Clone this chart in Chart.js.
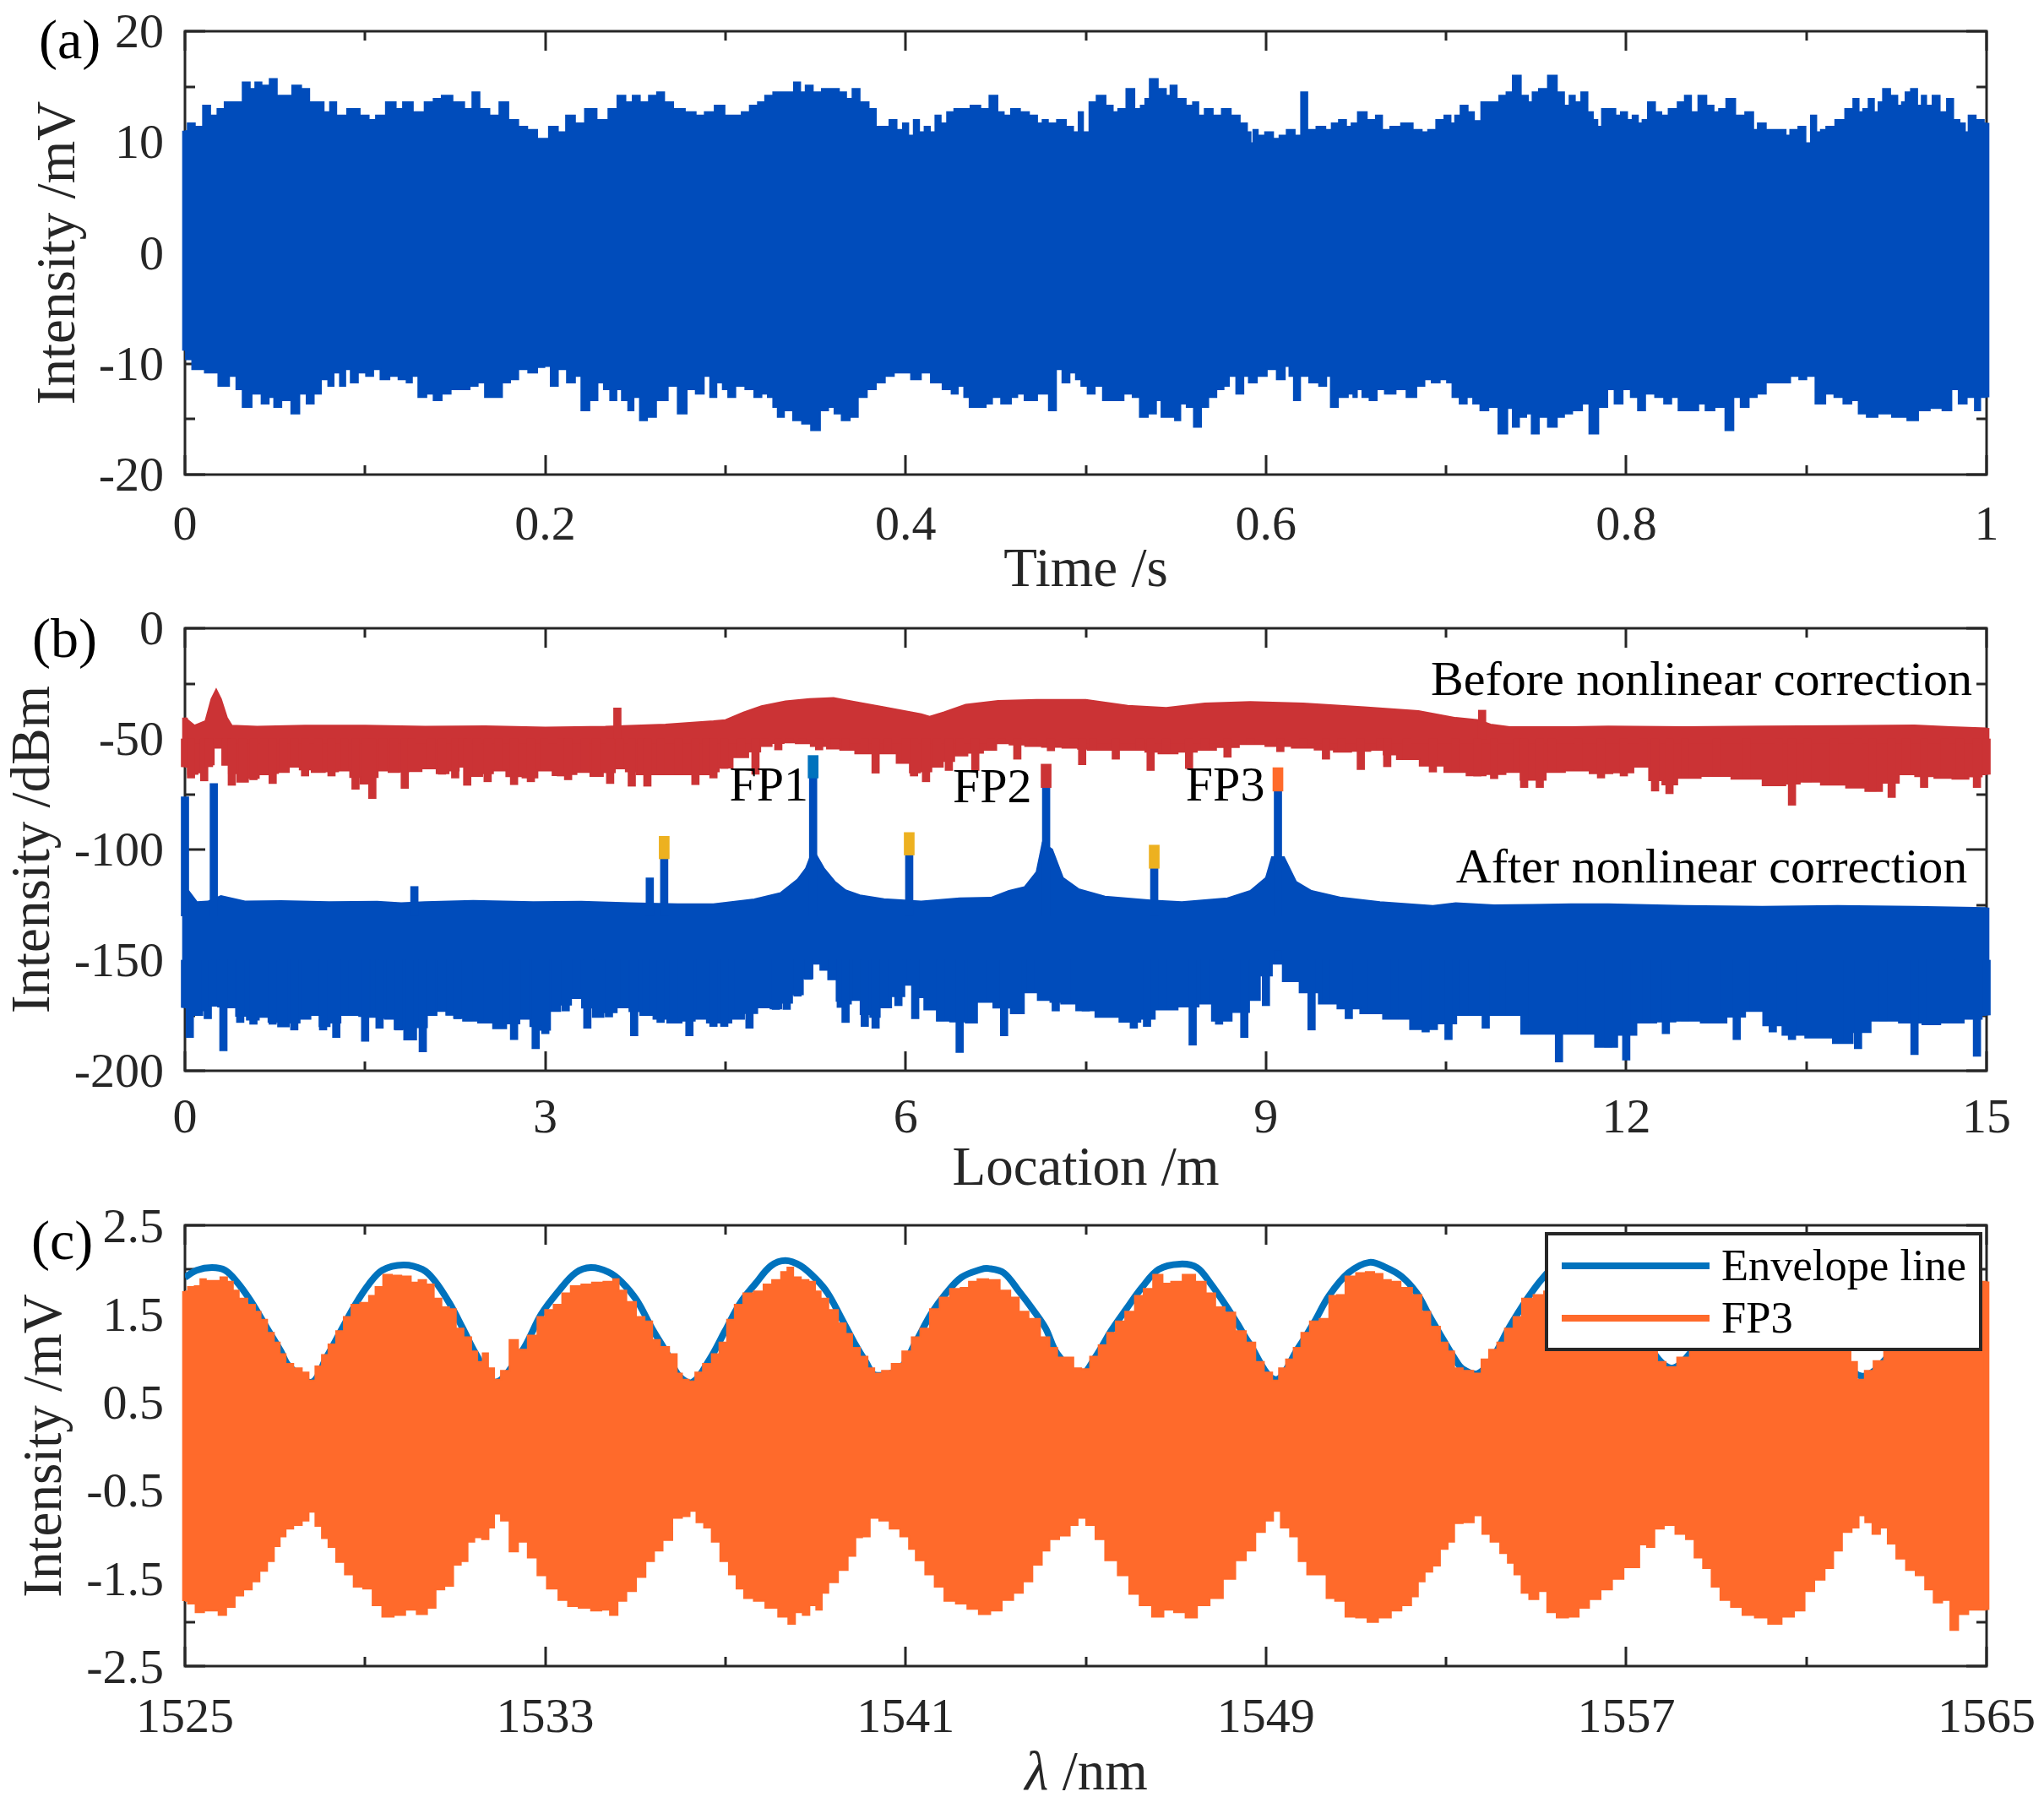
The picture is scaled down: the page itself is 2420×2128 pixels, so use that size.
<!DOCTYPE html>
<html>
<head>
<meta charset="utf-8">
<title>Intensity, location and wavelength traces</title>
<script src="https://cdn.jsdelivr.net/npm/chart.js@4/dist/chart.umd.min.js"></script>
<style>
  html, body { margin: 0; padding: 0; background: #fff; }
  canvas { position: absolute; left: 0; display: block; }
</style>
</head>
<body>
<canvas id="panelA" width="2420" height="709" style="top:0"></canvas>
<canvas id="panelB" width="2420" height="709" style="top:709px"></canvas>
<canvas id="panelC" width="2420" height="710" style="top:1418px"></canvas>
<script>
const aUpperTime = [
  0,.003,.008,.012,.016,.020,.024,.030,.034,.038,
  .040,.045,.049,.053,.057,.062,.067,.071,.075,.079,
  .082,.086,.094,.100,.104,.108,.115,.119,.123,.130,
  .136,.140,.145,.152,.158,.161,.166,.172,.177,.182,
  .188,.192,.199,.205,.209,.214,.219,.225,.232,.238,
  .242,.247,.250,.255,.260,.264,.268,.274,.281,.286,
  .291,.297,.302,.307,.311,.316,.320,.324,.329,.336,
  .340,.343,.346,.351,.356,.361,.365,.369,.372,.377,
  .382,.385,.389,.393,.397,.400,.403,.406,.409,.412,
  .415,.418,.421,.425,.429,.433,.439,.444,.449,.453,
  .456,.461,.466,.471,.475,.477,.481,.487,.491,.495,
  .497,.500,.504,.508,.514,.516,.520,.525,.529,.532,
  .534,.537,.543,.546,.548,.553,.558,.561,.564,.568,
  .573,.578,.583,.588,.591,.592,.594,.597,.602,.606,
  .609,.614,.618,.621,.625,.631,.635,.638,.643,.646,
  .649,.653,.659,.663,.666,.672,.678,.685,.688,.692,
  .697,.701,.704,.706,.710,.714,.717,.722,.727,.732,
  .735,.739,.744,.747,.749,.754,.759,.764,.767,.770,
  .773,.777,.780,.783,.785,.788,.793,.795,.799,.802,
  .805,.808,.810,.814,.818,.821,.826,.831,.834,.838,
  .842,.847,.850,.853,.858,.863,.869,.872,.874,.881,
  .888,.889,.893,.898,.901,.904,.907,.909,.913,.919,
  .924,.928,.930,.933,.936,.939,.941,.944,.949,.952,
  .954,.956,.960,.963,.965,.968,.972,.976,.980,.983,
  .987,.989,.991,.997,1];
const aUpperValues = [
  11.0,11.7,11.4,13.3,12.4,13.0,13.6,13.6,15.4,14.8,
  15.4,15.1,15.7,14.2,14.2,15.1,14.8,13.6,13.6,12.7,
  13.6,12.4,13.0,12.4,12.0,12.4,13.6,13.0,13.6,12.7,
  13.6,13.9,14.2,13.6,13.0,14.5,13.0,12.4,13.6,12.0,
  11.4,11.1,10.3,11.4,10.9,12.4,11.7,13.0,12.0,13.0,
  14.2,13.6,14.2,13.6,14.2,14.5,13.6,13.0,12.7,12.4,
  12.7,13.3,12.4,12.4,12.7,13.3,13.6,14.2,14.5,14.5,
  15.4,14.5,15.1,14.5,14.8,14.8,14.5,13.9,14.8,13.6,
  13.0,11.4,11.4,12.0,11.1,11.7,10.6,12.0,10.9,11.4,
  10.9,12.4,11.7,12.7,13.0,13.0,13.3,13.0,14.2,12.7,
  12.4,13.0,12.7,12.4,11.7,12.0,11.7,12.0,11.4,10.9,
  12.7,10.9,13.6,14.2,13.3,12.7,13.0,14.8,13.0,13.3,
  13.9,15.7,14.8,14.2,15.1,13.9,13.3,13.6,12.4,13.0,
  12.4,13.0,12.4,11.7,10.9,9.9,11.1,10.6,10.9,10.3,
  10.6,11.1,10.6,14.5,11.1,11.4,11.1,11.7,12.0,11.4,
  11.7,12.7,12.0,12.4,11.1,11.4,11.7,11.1,10.9,11.1,
  12.0,12.4,11.7,12.4,13.3,12.7,11.9,13.6,13.6,14.2,
  14.5,16.0,14.2,13.6,14.5,14.8,16.0,14.5,13.3,14.2,
  13.6,14.5,12.7,12.0,11.4,13.0,13.0,12.4,12.7,12.0,
  12.4,11.7,12.0,13.6,12.7,12.4,13.0,13.6,14.2,12.7,
  14.2,13.3,12.7,13.0,13.9,12.4,12.7,11.1,11.7,11.1,
  11.1,10.6,11.1,11.4,9.9,12.4,10.9,11.1,11.4,12.0,
  13.0,13.9,12.7,13.0,13.9,12.7,13.6,14.8,14.2,13.3,
  13.6,14.5,14.8,13.3,14.2,13.3,14.2,12.7,13.9,12.0,
  11.7,10.9,12.4,12.0,11.7];
const aLowerTime = [
  0,.001,.007,.015,.022,.027,.030,.034,.040,.045,
  .048,.051,.056,.062,.065,.070,.073,.078,.081,.084,
  .088,.090,.094,.098,.103,.106,.111,.116,.121,.125,
  .127,.132,.136,.140,.145,.150,.155,.161,.164,.169,
  .173,.179,.182,.188,.193,.198,.201,.205,.209,.215,
  .218,.222,.227,.231,.234,.238,.241,.244,.248,.250,
  .255,.258,.265,.271,.276,.281,.286,.290,.293,.297,
  .300,.303,.308,.314,.318,.322,.325,.328,.330,.335,
  .340,.345,.350,.355,.359,.362,.367,.371,.376,.381,
  .386,.391,.396,.400,.406,.411,.417,.424,.427,.431,
  .434,.437,.443,.446,.450,.456,.461,.463,.469,.477,
  .482,.485,.489,.493,.496,.499,.503,.507,.512,.518,
  .524,.528,.532,.537,.541,.543,.548,.551,.554,.558,
  .562,.566,.570,.575,.578,.581,.586,.589,.592,.598,
  .603,.609,.612,.614,.617,.621,.627,.632,.635,.637,
  .643,.648,.649,.652,.655,.660,.663,.669,.675,.681,
  .686,.690,.694,.699,.702,.705,.710,.713,.717,.721,
  .726,.732,.736,.738,.743,.746,.749,.754,.759,.764,
  .767,.773,.778,.781,.788,.791,.796,.800,.805,.808,
  .813,.819,.823,.827,.831,.838,.842,.846,.852,.858,
  .861,.866,.870,.875,.880,.888,.894,.898,.902,.908,
  .913,.918,.923,.927,.931,.936,.943,.952,.960,.964,
  .973,.978,.983,.986,.992,.995,.998,1];
const aLowerValues = [
  -8.8,-9.6,-10.5,-10.8,-12.0,-11.1,-12.3,-13.9,-12.7,-13.6,
  -13.0,-13.9,-13.3,-14.5,-12.7,-13.6,-12.7,-11.4,-12.0,-10.8,
  -12.0,-10.5,-11.7,-10.8,-11.1,-10.5,-11.4,-11.1,-11.4,-11.7,
  -11.1,-13.0,-12.7,-13.3,-12.7,-12.3,-12.3,-12.0,-11.7,-13.0,
  -13.0,-11.7,-11.4,-10.5,-10.8,-10.3,-10.2,-12.0,-10.5,-11.7,
  -11.1,-14.2,-13.3,-11.7,-12.3,-13.3,-12.3,-13.3,-14.2,-13.0,
  -15.1,-14.8,-13.3,-12.0,-14.5,-12.3,-12.7,-11.1,-13.0,-11.7,
  -12.3,-13.0,-12.0,-12.3,-13.0,-12.7,-13.0,-13.9,-14.8,-14.2,
  -15.1,-15.4,-16.0,-14.2,-13.9,-14.5,-15.1,-14.8,-13.0,-12.3,
  -11.7,-11.1,-10.8,-10.8,-11.4,-10.8,-11.7,-12.3,-12.7,-12.0,
  -13.0,-13.9,-13.9,-13.6,-13.0,-13.6,-13.0,-12.7,-13.3,-12.7,
  -14.2,-10.5,-11.7,-10.8,-11.4,-12.0,-12.7,-12.0,-13.3,-13.3,
  -12.7,-13.0,-14.8,-14.5,-13.3,-14.8,-14.8,-15.1,-13.6,-13.9,
  -15.7,-13.9,-13.0,-12.3,-12.0,-11.1,-12.7,-11.1,-11.7,-11.1,
  -10.5,-11.4,-10.2,-11.1,-13.3,-11.1,-11.7,-12.0,-11.1,-13.9,
  -13.0,-12.7,-13.0,-12.3,-13.0,-13.3,-12.3,-12.7,-12.3,-13.0,
  -12.0,-11.4,-11.7,-11.4,-11.7,-13.0,-13.6,-13.0,-13.6,-14.2,
  -13.9,-16.3,-14.0,-15.7,-14.8,-14.5,-16.3,-14.8,-15.7,-14.8,
  -14.5,-14.2,-13.6,-16.3,-13.9,-12.3,-13.6,-12.3,-13.0,-14.2,
  -12.7,-13.0,-13.6,-13.0,-14.2,-14.2,-13.6,-14.2,-13.9,-16.0,
  -13.0,-13.9,-13.0,-12.7,-11.7,-11.7,-11.1,-11.4,-11.1,-13.6,
  -12.7,-13.0,-13.6,-13.3,-14.5,-14.8,-14.5,-14.8,-15.1,-14.2,
  -14.0,-14.2,-12.3,-13.6,-13.0,-14.2,-13.0,-13.0];
const aEdgeTime = [0, 1];
const aEdgeLow = [-8.8, -13.0];
const aEdgeHigh = [11.0, 11.7];
const aXTicks = [0,.1,.2,.3,.4,.5,.6,.7,.8,.9,1];
const aXLabels = ['0','0.2','0.4','0.6','0.8','1'];
const aYTicks = [-20,-15,-10,-5,0,5,10,15,20];
const aYLabels = ['20','10','0','-10','-20'];

// (b) location trace, before and after the correction
const bRedUpperLoc = [
  0,.08,.17,.22,.26,.30,.35,.39,.6,1,
  1.5,2,2.5,3,3.5,4,4.4,4.5,4.65,4.8,
  5,5.2,5.4,5.5,5.82,6.13,6.2,6.32,6.5,6.77,
  7.09,7.5,7.85,8.17,8.49,8.87,9.31,9.82,10.27,10.58,
  10.77,10.87,11.03,11.54,11.85,12.49,13.13,13.76,14.4,14.7,15];
const bRedUpperValues = [
  -40.5,-44,-42,-32,-27.7,-32,-40.5,-44,-44.5,-44,
  -44,-44.5,-44.3,-44.8,-44.5,-43.5,-42,-41.5,-38,-35.2,
  -33,-32,-31.5,-32.5,-35.7,-38.8,-40,-38,-34.5,-32.8,
  -32.3,-32.3,-35,-36,-34,-33.3,-34,-35.7,-37.4,-40.5,
  -41.5,-43.5,-44.7,-44.7,-44.4,-44.7,-44.4,-44.2,-43.9,-44.7,-45.2];
const bRedLowerLoc = [
  0,.05,.16,.20,.28,.34,.39,.48,.57,.66,
  .73,.82,.91,1.0,1.11,1.22,1.33,1.42,1.50,1.56,
  1.65,1.74,1.83,1.89,2.05,2.14,2.25,2.31,2.35,2.43,
  2.52,2.61,2.74,2.88,2.99,3.13,3.19,3.33,3.42,3.54,
  3.62,3.72,3.80,3.85,3.96,4.11,4.25,4.34,4.40,4.49,
  4.63,4.75,4.83,4.94,5.03,5.14,5.28,5.41,5.5,5.66,
  5.75,5.85,6.0,6.07,6.17,6.26,6.36,6.45,6.58,6.71,
  6.8,6.93,7.06,7.21,7.4,7.47,7.56,7.75,7.95,8.04,
  8.17,8.36,8.49,8.68,8.87,9.12,9.31,9.5,9.63,9.79,
  9.95,10.01,10.17,10.39,10.58,10.76,10.9,11.09,11.15,11.28,
  11.38,11.6,11.79,11.98,12.14,12.24,12.36,12.49,12.75,13.0,
  13.27,13.38,13.51,13.73,13.93,14.05,14.21,14.33,14.48,14.65,
  14.78,14.92,15];
const bRedLowerValues = [
  -62.6,-67.7,-69,-62.6,-54,-61.7,-71,-69.4,-68.5,-66,
  -70.2,-65,-62.6,-66.8,-65,-66.8,-64.3,-72.8,-70.2,-77,
  -64.3,-65,-72.4,-64.6,-63.4,-66,-67.7,-62.6,-71,-66.8,
  -69.4,-64.3,-70.7,-69.4,-64.3,-66.8,-68.5,-65,-66.8,-70.2,
  -63.4,-71.4,-66,-71.4,-66,-66,-70.7,-66,-67.7,-63.4,
  -58.3,-66,-53.2,-55,-50.7,-52,-55,-54.4,-55,-56.6,
  -65.5,-56.6,-60.9,-66.8,-69.4,-62.6,-64.3,-57.5,-64.3,-55,
  -52,-59.2,-53.2,-55.4,-54,-61.7,-55,-59.2,-55,-64.3,
  -56.6,-63.4,-55,-58.3,-52.4,-55.8,-54,-59.2,-55.8,-63.9,
  -55,-62.6,-59.2,-65,-65,-66.8,-68,-65,-72,-72,
  -65,-64.3,-67.7,-66.8,-62.6,-73.6,-74.8,-67.7,-66.8,-68,
  -71,-80,-69.4,-70.7,-72,-73.6,-76.5,-66,-72,-67.7,
  -68,-72,-66];
const bRedSpikeLoc = [3.6, 10.8];
const bRedSpikeTop = [-36, -37];
const bBlueUpperLoc = [
  0,.03,.1,.19,.3,.5,.8,1.2,1.6,1.8,
  2.0,2.4,2.9,3.3,3.7,4.1,4.4,4.74,4.96,5.1,
  5.17,5.23,5.32,5.41,5.5,5.62,5.82,6.13,6.45,6.71,
  6.86,6.99,7.09,7.14,7.22,7.31,7.44,7.66,8.04,8.3,
  8.68,8.87,9.0,9.05,9.15,9.25,9.38,9.63,9.95,10.39,
  10.58,10.9,11.22,11.54,11.85,12.49,13.13,13.76,14.4,15];
const bBlueUpperValues = [
  -118,-118.7,-123.8,-123.5,-121,-123.5,-123.3,-123.8,-123.6,-124.2,
  -123.8,-123.2,-123.8,-123.6,-124.2,-124.7,-124.7,-122.5,-119.6,-113.6,
  -108.5,-100,-108.5,-114.5,-118.4,-120.7,-122.4,-123.5,-122,-121.8,
  -118.7,-117,-110.2,-97,-100,-112.8,-117.9,-121.3,-123,-123.8,
  -122,-118.7,-112.8,-103.4,-103.4,-114.5,-118.7,-121.8,-123.8,-125.5,
  -124.2,-125.2,-125,-124.7,-124.7,-125.5,-125.9,-125.5,-125.9,-126.4];
const bBlueLowerLoc = [
  0,.04,.10,.19,.23,.32,.39,.46,.57,.66,
  .73,.82,.91,1.0,1.09,1.15,1.26,1.33,1.40,1.50,
  1.58,1.62,1.71,1.78,1.87,1.98,2.05,2.14,2.21,2.27,
  2.36,2.52,2.61,2.74,2.83,2.92,3.0,3.08,3.17,3.26,
  3.35,3.44,3.53,3.66,3.74,3.84,3.96,4.07,4.20,4.29,
  4.40,4.49,4.61,4.70,4.83,4.92,5.01,5.1,5.19,5.26,
  5.32,5.39,5.46,5.5,5.59,5.66,5.75,5.82,5.94,6.04,
  6.08,6.23,6.29,6.45,6.55,6.64,6.82,6.93,7.04,7.16,
  7.25,7.34,7.5,7.66,7.9,8.01,8.14,8.39,8.49,8.61,
  8.82,8.9,9.0,9.1,9.18,9.38,9.5,9.69,9.88,10.07,
  10.33,10.52,10.65,10.83,11.03,11.22,11.44,11.63,11.85,12.0,
  12.17,12.33,12.49,12.75,12.92,13.06,13.22,13.38,13.6,13.84,
  13.93,14.14,14.4,14.53,14.7,14.92,15];
const bBlueLowerValues = [
  -171.4,-185,-174.8,-176.5,-170.6,-191,-171.4,-178.2,-179,-175.7,
  -179,-180,-181.6,-176.5,-174.8,-181.6,-185,-174.8,-174.8,-186.7,
  -175.7,-180.8,-176.5,-181.6,-185.9,-191.5,-174.8,-173,-174.8,-176.5,
  -177.4,-178.2,-180.8,-185.9,-176.5,-190,-183.3,-173,-173,-167.2,
  -180.8,-175.7,-175.7,-171.4,-184.2,-174.8,-178.2,-178.2,-184.2,-176.5,
  -180,-180,-176.5,-180.8,-171.4,-172.3,-172.3,-166.3,-158.7,-150.2,
  -154.4,-158.7,-171.4,-178.2,-168,-180,-180.8,-171.4,-170.6,-161.2,
  -176.5,-172.3,-177.4,-191.8,-178.2,-168.9,-184.2,-174,-164.6,-168,
  -173,-169.7,-173,-175.7,-180.8,-180,-172.3,-188.4,-169.7,-179,
  -185,-168,-170.6,-145.9,-159.5,-181.6,-169.7,-176.5,-174,-176.5,
  -182.5,-185.9,-174.8,-180.8,-174.8,-183.3,-196.1,-183.3,-189.3,-195.2,
  -178.2,-183.3,-177.4,-178.2,-185.9,-173,-182.5,-185.9,-185,-187.6,
  -190,-177.4,-192.7,-179,-178.2,-193.5,-174.8];
const bBlueSpikeLoc = [0,.24,1.91,3.87,3.99,5.23,6.03,7.17,8.07,9.1];
const bBlueSpikeTop = [-76.2,-70.2,-116.7,-112.8,-104.2,-67.7,-102.5,-72,-108.5,-73.6];
const bTipLoc = [3.99,5.23,6.03,7.17,8.07,9.1];
const bTipTop = [-94,-57.5,-92.3,-61.4,-98,-63];
const bTipBottom = [-104.2,-67.7,-102.5,-72,-108.5,-73.6];
const bEdgeLoc = [0, 15];
const bRedEdgeLow = [-62.6, -66];
const bRedEdgeHigh = [-40.5, -45.2];
const bBlueEdgeLow = [-171.4, -174.8];
const bBlueEdgeHigh = [-118, -126.4];
const bXTicks = [0,1.5,3,4.5,6,7.5,9,10.5,12,13.5,15];
const bXLabels = ['0','3','6','9','12','15'];
const bYTicks = [-200,-175,-150,-125,-100,-75,-50,-25,0];
const bYLabels = ['0','-50','-100','-150','-200'];

// (c) wavelength trace and its envelope line
const cEnvelopeWave = [
  1525,1525.26,1525.6,1525.89,1526.15,1526.45,1526.79,1527.13,1527.3,1527.81,
  1528.15,1528.49,1528.78,1529.08,1529.38,1529.85,1530.27,1530.53,1530.87,1531.17,
  1531.46,1531.89,1532.48,1532.91,1533.29,1533.67,1534.01,1534.4,1534.69,1535.03,
  1535.37,1535.71,1535.97,1536.27,1536.65,1536.99,1537.33,1537.67,1538.01,1538.33,
  1538.67,1539.01,1539.27,1539.56,1539.86,1540.12,1540.33,1540.88,1541.22,1541.56,
  1541.9,1542.24,1542.67,1542.84,1543.18,1543.52,1543.86,1544.11,1544.37,1544.88,
  1545.22,1545.56,1545.9,1546.24,1546.62,1547.09,1547.47,1547.77,1548.11,1548.36,
  1548.62,1549.21,1549.72,1550.06,1550.4,1550.83,1551.3,1551.67,1552.01,1552.35,
  1552.61,1552.86,1553.2,1553.37,1553.71,1554.05,1554.39,1554.82,1555.16,1555.5,
  1555.92,1556.43,1556.94,1557.45,1558,1558.56,1559.07,1559.58,1560.09,1560.6,
  1561.11,1561.62,1562.21,1562.85,1563.4,1563.91];
const cEnvelopeValues = [
  1.91,1.99,2.02,1.99,1.86,1.65,1.36,1.07,.91,.72,
  1.01,1.33,1.60,1.83,1.99,2.05,2.0,1.88,1.62,1.33,
  1.04,.72,1.07,1.49,1.75,1.96,2.02,1.97,1.86,1.65,
  1.33,1.04,.79,.72,.98,1.30,1.62,1.84,2.04,2.10,
  2.04,1.89,1.73,1.46,1.17,.95,.80,.88,1.17,1.49,
  1.73,1.91,2.0,2.01,1.96,1.75,1.52,1.33,1.04,.80,
  1.01,1.30,1.55,1.79,2.0,2.06,2.02,1.84,1.59,1.39,
  1.17,.75,1.11,1.39,1.70,1.96,2.08,2.02,1.92,1.73,
  1.49,1.27,.98,.87,.82,1.01,1.33,1.68,1.91,2.07,
  2.08,1.99,1.62,1.17,.88,1.14,1.52,1.91,2.07,2.0,
  1.68,1.17,.79,1.04,1.55,1.91];
const cUpperWave = [
  1525,1525.13,1525.30,1525.38,1525.55,1525.72,1525.85,1526.02,1526.11,1526.28,
  1526.49,1526.62,1526.74,1526.91,1527.04,1527.17,1527.30,1527.51,1527.68,1527.81,
  1527.98,1528.10,1528.27,1528.44,1528.61,1528.78,1529.0,1529.17,1529.29,1529.51,
  1529.68,1529.93,1530.10,1530.27,1530.44,1530.61,1530.78,1530.95,1531.08,1531.29,
  1531.42,1531.56,1531.66,1531.80,1531.93,1532.10,1532.31,1532.48,1532.74,1532.91,
  1533.08,1533.29,1533.46,1533.67,1533.93,1534.14,1534.44,1534.57,1534.69,1534.91,
  1535.12,1535.29,1535.46,1535.63,1535.87,1535.97,1536.10,1536.27,1536.39,1536.61,
  1536.78,1536.95,1537.12,1537.29,1537.5,1537.76,1537.93,1538.14,1538.33,
  1538.42,1538.59,1538.76,1538.93,1539.05,1539.18,1539.39,1539.61,1539.73,1539.90,
  1540.07,1540.24,1540.37,1540.58,1540.80,1541.05,1541.22,1541.43,1541.65,1541.86,
  1542.11,1542.33,1542.48,1542.71,1542.96,1543.22,1543.43,1543.60,1543.86,1544.11,
  1544.28,1544.45,1544.66,1544.79,1545.01,1545.18,1545.39,1545.56,1545.77,1545.98,
  1546.2,1546.37,1546.62,1546.79,1547.0,1547.3,1547.56,1547.77,1547.98,1548.19,
  1548.45,1548.66,1548.87,1549.04,1549.24,1549.34,1549.55,1549.68,1549.89,1550.06,
  1550.32,1550.49,1550.66,1550.87,1551.13,1551.3,1551.51,1551.67,1551.88,1552.1,
  1552.39,1552.52,1552.78,1552.95,1553.12,1553.24,1553.5,1553.71,1553.86,1554.05,
  1554.22,1554.39,1554.6,1554.77,1555.11,1555.24,1555.67,1556.09,1556.6,1557.11,
  1557.62,1557.75,1558.0,1558.26,1558.56,1558.98,1559.49,1560.09,1560.6,1561.11,
  1561.53,1561.92,1562.04,1562.21,1562.38,1562.6,1562.85,1563.32,1563.83,1564.34,
  1564.85,1565];
const cUpperValues = [
  1.75,1.80,1.81,1.89,1.87,1.87,1.91,1.86,1.76,1.67,
  1.60,1.52,1.43,1.28,1.17,1.04,.93,.88,.83,.74,
  .90,1.03,1.15,1.30,1.46,1.60,1.62,1.70,1.80,1.94,
  1.93,1.92,1.85,1.88,1.83,1.67,1.57,1.55,1.33,1.23,
  1.07,.95,1.05,.88,.75,.85,1.20,1.09,1.25,1.46,
  1.54,1.60,1.73,1.81,1.83,1.85,1.86,1.89,1.76,1.63,
  1.46,1.41,1.20,1.12,1.04,.82,.75,.73,.83,.93,
  1.04,1.17,1.43,1.60,1.73,1.75,1.83,1.88,1.97,
  2.02,1.91,1.88,1.86,1.75,1.67,1.54,1.39,1.27,1.11,
  1.01,.88,.82,.85,.93,1.07,1.23,1.33,1.55,1.68,
  1.78,1.79,1.86,1.89,1.88,1.76,1.68,1.52,1.44,1.23,
  1.11,1.0,1.0,.88,.87,1.01,1.14,1.28,1.41,1.52,
  1.70,1.78,1.94,1.84,1.86,1.94,1.86,1.73,1.57,1.51,
  1.30,1.17,.95,.83,.74,.88,.98,1.11,1.28,1.41,
  1.44,1.70,1.71,1.92,1.96,1.97,1.95,1.88,1.86,1.79,
  1.71,1.52,1.35,1.17,1.07,.88,.85,.82,.98,1.09,
  1.17,1.33,1.46,1.67,1.71,1.75,1.83,1.86,1.68,1.36,
  1.07,.95,.89,1.0,1.11,1.43,1.75,1.88,1.83,1.56,
  1.24,1.07,.95,.75,.85,.96,1.07,1.39,1.75,1.88,
  1.86,1.86];
const cLowerWave = [
  1525,1525.13,1525.34,1525.51,1525.68,1525.81,1526.02,1526.19,1526.40,1526.57,
  1526.74,1526.91,1527.04,1527.17,1527.30,1527.51,1527.68,1527.81,1527.98,1528.10,
  1528.27,1528.44,1528.66,1528.83,1529.08,1529.25,1529.51,1529.76,1530.02,1530.27,
  1530.48,1530.65,1530.87,1531.04,1531.21,1531.34,1531.51,1531.68,1531.80,1531.93,
  1532.10,1532.31,1532.48,1532.74,1532.91,1533.16,1533.42,1533.59,1533.89,1534.14,
  1534.35,1534.52,1534.69,1534.91,1535.12,1535.33,1535.50,1535.71,1535.93,1536.14,
  1536.27,1536.44,1536.61,1536.78,1536.99,1537.16,1537.33,1537.5,1537.76,1538.01,
  1538.33,1538.46,1538.63,1538.80,1538.93,1539.10,1539.18,1539.39,1539.61,1539.82,
  1539.95,1540.12,1540.29,1540.54,1540.75,1541.01,1541.14,1541.31,1541.56,1541.73,
  1541.99,1542.24,1542.5,1542.75,1543.01,1543.26,1543.52,1543.69,1543.94,1544.11,
  1544.28,1544.54,1544.75,1544.89,1545.13,1545.3,1545.56,1545.86,1546.07,1546.32,
  1546.62,1546.83,1547.09,1547.34,1547.6,1547.9,1548.19,1548.45,1548.66,1548.87,
  1549.09,1549.23,1549.43,1549.64,1549.81,1550.02,1550.28,1550.41,1550.66,1550.87,
  1551.13,1551.38,1551.6,1551.67,1551.88,1552.14,1552.31,1552.44,1552.61,1552.78,
  1552.95,1553.12,1553.24,1553.5,1553.73,1553.88,1554.09,1554.31,1554.43,1554.6,
  1554.75,1554.94,1555.16,1555.33,1555.58,1555.84,1556.05,1556.3,1556.56,1556.81,
  1557.07,1557.2,1557.38,1557.54,1557.71,1557.96,1558.22,1558.43,1558.6,1558.81,
  1558.98,1559.2,1559.45,1559.71,1560,1560.3,1560.6,1560.85,1561.07,1561.28,
  1561.53,1561.66,1561.92,1562.09,1562.23,1562.38,1562.55,1562.72,1562.89,1563.1,
  1563.32,1563.53,1563.74,1563.91,1564.12,1564.27,1564.47,1564.72,1565];
const cLowerValues = [
  -1.76,-1.79,-1.89,-1.87,-1.87,-1.92,-1.83,-1.70,-1.63,-1.54,
  -1.42,-1.31,-1.14,-1.03,-.94,-.90,-.85,-.75,-.91,-1.05,
  -1.15,-1.32,-1.46,-1.60,-1.62,-1.81,-1.94,-1.92,-1.86,-1.91,
  -1.84,-1.63,-1.59,-1.35,-1.31,-1.09,-1.04,-1.06,-.93,-.77,
  -.85,-1.20,-1.09,-1.27,-1.47,-1.62,-1.75,-1.82,-1.84,-1.87,
  -1.86,-1.92,-1.76,-1.65,-1.49,-1.31,-1.19,-1.07,-.82,-.80,
  -.74,-.87,-.93,-1.09,-1.31,-1.46,-1.62,-1.73,-1.76,-1.84,
  -1.94,-2.02,-1.89,-1.92,-1.81,-1.86,-1.67,-1.55,-1.41,-1.25,
  -1.04,-1.03,-.82,-.85,-.94,-1.03,-1.17,-1.30,-1.46,-1.60,
  -1.76,-1.79,-1.85,-1.91,-1.87,-1.75,-1.67,-1.54,-1.35,-1.19,
  -1.06,-1.02,-.90,-.82,-.90,-1.06,-1.30,-1.47,-1.68,-1.81,
  -1.94,-1.86,-1.89,-1.95,-1.81,-1.73,-1.51,-1.30,-1.19,-.98,
  -.85,-.74,-.93,-1.03,-1.31,-1.46,-1.46,-1.73,-1.76,-1.94,
  -1.95,-2.0,-1.95,-1.95,-1.87,-1.81,-1.71,-1.54,-1.43,-1.36,
  -1.17,-1.09,-.88,-.87,-.79,-1.0,-1.09,-1.22,-1.33,-1.46,
  -1.67,-1.74,-1.65,-1.89,-1.95,-1.94,-1.84,-1.74,-1.63,-1.51,
  -1.38,-1.38,-1.12,-1.15,-.94,-.90,-1.0,-1.06,-1.27,-1.39,
  -1.60,-1.75,-1.83,-1.92,-1.95,-2.02,-1.94,-1.87,-1.65,-1.52,
  -1.39,-1.19,-.98,-.93,-.79,-.87,-1.0,-.93,-1.11,-1.28,
  -1.41,-1.47,-1.63,-1.78,-1.75,-2.09,-1.91,-1.86,-1.86];
const cEdgeWave = [1525, 1565];
const cEdgeLow = [-1.76, -1.86];
const cEdgeHigh = [1.75, 1.86];
const cXTicks = [1525,1529,1533,1537,1541,1545,1549,1553,1557,1561,1565];
const cXLabels = ['1525','1533','1541','1549','1557','1565'];
const cYTicks = [-2.5,-2,-1.5,-1,-.5,0,.5,1,1.5,2,2.5];
const cYLabels = ['2.5','1.5','0.5','-0.5','-1.5','-2.5'];

const SERIF = '"Liberation Serif", "Times New Roman", serif';
const AXIS_COLOR = '#262626';
const BLUE = '#004cbb';
const RED = '#cb3335';
const ORANGE = '#ff6a2b';
const ENVELOPE = '#0072bd';
const YELLOW = '#edb120';

Chart.defaults.font.family = SERIF;
Chart.defaults.color = AXIS_COLOR;

const toPoints = (xs, ys) => xs.map((x, i) => ({ x, y: ys[i] }));
const toBars = (xs, lows, highs) => xs.map((x, i) => ({ x, y: [lows[i], highs[i]] }));

// one edge of a filled band, filled past the middle so the two halves overlap
const band = (xs, ys, color, fillTo, order, label, stepped = 'middle') => ({
  type: 'line', label, data: toPoints(xs, ys), stepped,
  borderColor: color, backgroundColor: color, borderWidth: 2,
  fill: { value: fillTo }, pointRadius: 0, clip: false, order
});
const bars = (xs, lows, highs, color, thickness, order) => ({
  type: 'bar', data: toBars(xs, lows, highs), backgroundColor: color, borderWidth: 0,
  barThickness: thickness, grouped: false, clip: false, order
});
// the read lower edge as thin dips over a shallower plateau
const plateau = ys => ys.map((y, i) => Math.max(y, ((ys[i - 1] ?? y) + (ys[i + 1] ?? y)) / 2));

// inward MATLAB style ticks on all four sides and the axes box
const boxPlugin = {
  id: 'box',
  beforeDatasetsDraw(chart) {
    const { ctx, chartArea: a, scales } = chart;
    ctx.save();
    ctx.strokeStyle = AXIS_COLOR;
    ctx.lineWidth = 3;
    ctx.beginPath();
    scales.x.ticks.forEach(t => {
      const px = Math.round(scales.x.getPixelForValue(t.value));
      const len = t.label ? 23 : 11;
      ctx.moveTo(px, a.top); ctx.lineTo(px, a.top + len);
      ctx.moveTo(px, a.bottom); ctx.lineTo(px, a.bottom - len);
    });
    scales.y.ticks.forEach(t => {
      const py = Math.round(scales.y.getPixelForValue(t.value));
      const len = t.label ? 24 : 12;
      ctx.moveTo(a.left, py); ctx.lineTo(a.left + len, py);
      ctx.moveTo(a.right, py); ctx.lineTo(a.right - len, py);
    });
    ctx.stroke();
    ctx.strokeRect(a.left, a.top, a.right - a.left, a.bottom - a.top);
    ctx.restore();
  },
  afterDatasetsDraw(chart) {
    const { ctx, scales } = chart;
    const opts = chart.options.plugins.box;
    ctx.save();
    ctx.fillStyle = '#000';
    ctx.textBaseline = 'middle';
    (opts.notes || []).forEach(n => {
      ctx.font = n.size + 'px ' + SERIF;
      ctx.textAlign = n.align || 'left';
      const px = n.dataX !== undefined ? scales.x.getPixelForValue(n.dataX) : n.px;
      const py = n.dataY !== undefined ? scales.y.getPixelForValue(n.dataY) : n.py;
      ctx.fillText(n.text, px, py);
    });
    if (opts.lambdaTitle) drawLambdaTitle(ctx, opts.lambdaTitle);
    if (opts.legend) drawLegend(ctx, chart, opts.legend);
    ctx.restore();
  }
};

function drawLambdaTitle(ctx, t) {
  ctx.textAlign = 'left';
  ctx.fillStyle = AXIS_COLOR;
  ctx.font = 'italic ' + t.size + 'px ' + SERIF;
  const w1 = ctx.measureText(t.symbol).width;
  ctx.font = t.size + 'px ' + SERIF;
  const w2 = ctx.measureText(t.rest).width;
  const x = t.cx - (w1 + w2) / 2;
  ctx.fillText(t.rest, x + w1, t.y);
  ctx.font = 'italic ' + t.size + 'px ' + SERIF;
  ctx.fillText(t.symbol, x, t.y);
}

function drawLegend(ctx, chart, l) {
  ctx.fillStyle = '#fff';
  ctx.fillRect(l.left, l.top, l.width, l.height);
  ctx.strokeStyle = AXIS_COLOR;
  ctx.lineWidth = 4;
  ctx.strokeRect(l.left, l.top, l.width, l.height);
  const labelled = chart.data.datasets.filter(d => d.label);
  labelled.forEach((d, i) => {
    const y = l.top + l.firstRow + i * l.rowGap;
    ctx.strokeStyle = d.borderColor;
    ctx.lineWidth = 8;
    ctx.beginPath();
    ctx.moveTo(l.left + 18, y);
    ctx.lineTo(l.left + 193, y);
    ctx.stroke();
    ctx.fillStyle = '#000';
    ctx.textAlign = 'left';
    ctx.textBaseline = 'middle';
    ctx.font = l.size + 'px ' + SERIF;
    ctx.fillText(d.label, l.left + 207, y + 3);
  });
}

function makePanel(id, cfg) {
  const labelOf = (value, labels) => {
    const text = String(Number(value.toFixed(3)));
    return labels.includes(text) ? text : '';
  };
  return new Chart(document.getElementById(id), {
    type: 'line',
    data: { datasets: cfg.datasets },
    plugins: [boxPlugin],
    options: {
      responsive: false,
      animation: false,
      devicePixelRatio: 1,
      layout: { autoPadding: false, padding: { top: cfg.top, right: 68, left: 0, bottom: 0 } },
      plugins: {
        legend: { display: false },
        tooltip: { enabled: false },
        box: { notes: cfg.notes, legend: cfg.legend, lambdaTitle: cfg.lambdaTitle }
      },
      scales: {
        x: {
          type: 'linear', offset: false, min: cfg.xMin, max: cfg.xMax,
          afterBuildTicks: s => { s.ticks = cfg.xTicks.map(value => ({ value })); },
          afterFit: s => { s.height = cfg.below; s.paddingLeft = 0; s.paddingRight = 0; },
          grid: { display: false, drawTicks: false },
          border: { display: false },
          ticks: {
            autoSkip: false, maxRotation: 0, padding: cfg.xTickPad, color: AXIS_COLOR,
            font: { size: 58 }, callback: v => labelOf(v, cfg.xLabels)
          },
          title: {
            display: !!cfg.xTitle, text: cfg.xTitle, color: AXIS_COLOR,
            font: { size: 65, lineHeight: 1 }, padding: { top: cfg.xTitlePad, bottom: 0 }
          }
        },
        y: {
          min: cfg.yMin, max: cfg.yMax,
          afterBuildTicks: s => { s.ticks = cfg.yTicks.map(value => ({ value })); },
          afterFit: s => { s.width = 219; s.paddingTop = 0; s.paddingBottom = 0; },
          grid: { display: false, drawTicks: false },
          border: { display: false },
          ticks: {
            autoSkip: false, padding: 25, color: AXIS_COLOR, labelOffset: cfg.yLabelShift,
            font: { size: 58 }, callback: v => labelOf(v, cfg.yLabels)
          },
          title: {
            display: true, text: cfg.yTitle, color: AXIS_COLOR,
            font: { size: 65, lineHeight: 1 }, padding: { top: cfg.yTitlePad, bottom: 0 }
          }
        }
      }
    }
  });
}

makePanel('panelA', {
  top: 37, below: 147, xMin: 0, xMax: 1, yMin: -20, yMax: 20, xTickPad: 27, yLabelShift: 4,
  xTicks: aXTicks, xLabels: aXLabels, yTicks: aYTicks, yLabels: aYLabels,
  xTitle: 'Time /s', yTitle: 'Intensity /mV', xTitlePad: -9, yTitlePad: 38,
  datasets: [
    band(aUpperTime, aUpperValues, BLUE, -1, 2),
    band(aLowerTime, aLowerValues, BLUE, 1, 2),
    bars(aEdgeTime, aEdgeLow, aEdgeHigh, BLUE, 6, 1)
  ],
  notes: [{ text: '(a)', px: 46, py: 52, size: 66 }]
});

makePanel('panelB', {
  top: 35, below: 150, xMin: 0, xMax: 15, yMin: -200, yMax: 0, xTickPad: 23, yLabelShift: 4,
  xTicks: bXTicks, xLabels: bXLabels, yTicks: bYTicks, yLabels: bYLabels,
  xTitle: 'Location /m', yTitle: 'Intensity /dBm', xTitlePad: -4, yTitlePad: 8,
  datasets: [
    band(bRedUpperLoc, bRedUpperValues, RED, -52, 6, undefined, false),
    band(bRedLowerLoc, plateau(bRedLowerValues), RED, -48, 6),
    bars(bRedLowerLoc, bRedLowerLoc.map(() => -50), bRedLowerValues, RED, 9, 5),
    bars(bRedSpikeLoc, bRedSpikeLoc.map(() => -50), bRedSpikeTop, RED, 9, 5),
    bars(bEdgeLoc, bRedEdgeLow, bRedEdgeHigh, RED, 6, 5),
    band(bBlueUpperLoc, bBlueUpperValues, BLUE, -152, 4, undefined, false),
    band(bBlueLowerLoc, plateau(bBlueLowerValues), BLUE, -148, 4),
    bars(bBlueLowerLoc, bBlueLowerLoc.map(() => -150), bBlueLowerValues, BLUE, 9, 3),
    bars(bBlueSpikeLoc, bBlueSpikeLoc.map(() => -130), bBlueSpikeTop, BLUE, 9, 3),
    bars(bEdgeLoc, bBlueEdgeLow, bBlueEdgeHigh, BLUE, 6, 3),
    bars(bTipLoc, bTipBottom, bTipTop, [YELLOW, ENVELOPE, YELLOW, RED, YELLOW, ORANGE], 12, 1)
  ],
  notes: [
    { text: '(b)', px: 38, py: 52, size: 66 },
    { text: 'Before nonlinear correction', dataX: 14.88, dataY: -24.5, size: 58, align: 'right' },
    { text: 'After nonlinear correction', dataX: 14.84, dataY: -109, size: 58, align: 'right' },
    { text: 'FP1', dataX: 5.19, dataY: -72, size: 58, align: 'right' },
    { text: 'FP2', dataX: 7.05, dataY: -73, size: 58, align: 'right' },
    { text: 'FP3', dataX: 8.99, dataY: -72, size: 58, align: 'right' }
  ]
});

makePanel('panelC', {
  top: 33, below: 155, xMin: 1525, xMax: 1565, yMin: -2.5, yMax: 2.5, xTickPad: 28, yLabelShift: 5,
  xTicks: cXTicks, xLabels: cXLabels, yTicks: cYTicks, yLabels: cYLabels,
  xTitle: '', yTitle: 'Intensity /mV', xTitlePad: 0, yTitlePad: 22,
  datasets: [
    {
      type: 'line', label: 'Envelope line', data: toPoints(cEnvelopeWave, cEnvelopeValues),
      borderColor: ENVELOPE, borderWidth: 8, tension: .35, pointRadius: 0, fill: false, order: 4
    },
    band(cUpperWave, cUpperValues, ORANGE, -.1, 3, 'FP3'),
    band(cLowerWave, cLowerValues, ORANGE, .1, 3),
    bars(cEdgeWave, cEdgeLow, cEdgeHigh, ORANGE, 6, 2)
  ],
  notes: [{ text: '(c)', px: 37, py: 56, size: 66 }],
  lambdaTitle: { symbol: 'λ', rest: ' /nm', cx: 1286, y: 684, size: 65 },
  legend: { left: 1831, top: 43, width: 514, height: 137, firstRow: 38, rowGap: 62, size: 52.5 }
});
</script>
</body>
</html>
